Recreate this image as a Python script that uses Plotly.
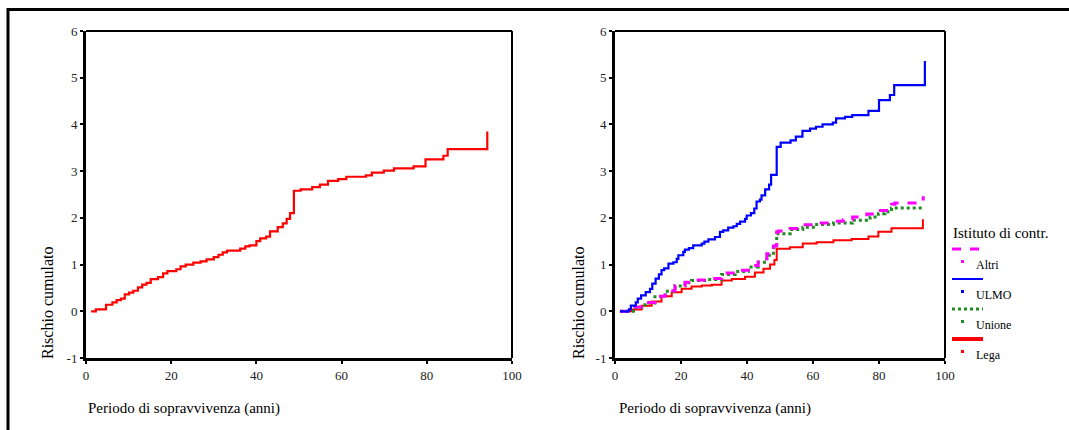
import plotly.graph_objects as go

# ---------------- data ----------------
# Left panel: overall cumulative hazard (step function)
all_t = [1.2, 2.3, 4.7, 6.2, 7.2, 8.2, 9.1, 10.1, 11.1, 12.2, 13.2, 14.2, 15.2, 16.9,
         18.1, 19.1, 21.2, 22.2, 23.4, 25.2, 26.9, 28.3, 30.0, 31.1, 32.1, 33.1, 36.2,
         37.4, 38.4, 40.0, 40.9, 42.3, 43.2, 45.0, 46.2, 47.1, 47.9, 48.8, 50.4, 53.1,
         54.9, 56.8, 59.2, 61.1, 65.7, 67.1, 69.9, 72.3, 76.9, 79.7, 83.9, 84.9, 94.2]
all_h = [0.00, 0.04, 0.14, 0.19, 0.24, 0.27, 0.36, 0.40, 0.44, 0.51, 0.57, 0.61, 0.69, 0.73,
         0.81, 0.86, 0.90, 0.96, 1.00, 1.04, 1.07, 1.11, 1.16, 1.21, 1.26, 1.30, 1.34,
         1.39, 1.41, 1.50, 1.56, 1.60, 1.71, 1.80, 1.88, 1.98, 2.10, 2.58, 2.61, 2.66,
         2.71, 2.79, 2.83, 2.88, 2.91, 2.97, 3.01, 3.06, 3.10, 3.25, 3.33, 3.47, 3.85]

# Right panel: by "Istituto di contr."
ulmo_t = [1.5, 4.2, 4.8, 6.3, 6.9, 7.9, 9.3, 10.6, 11.3, 12.3, 13.3, 14.1, 14.9, 16.2,
          17.7, 18.7, 19.2, 20.7, 21.2, 22.4, 23.7, 26.3, 27.1, 28.3, 30.3, 31.8, 32.8,
          34.3, 35.9, 36.9, 37.9, 39.4, 39.9, 41.2, 42.2, 42.9, 43.9, 44.4, 45.5, 46.7,
          47.3, 49.0, 50.2, 53.2, 54.8, 56.8, 59.1, 60.9, 62.9, 66.0, 67.0, 69.7, 71.9,
          76.8, 80.0, 83.3, 84.6, 93.9]
ulmo_h = [0.00, 0.04, 0.12, 0.19, 0.27, 0.34, 0.41, 0.48, 0.59, 0.70, 0.79, 0.88, 0.92, 1.02,
          1.05, 1.12, 1.20, 1.27, 1.32, 1.35, 1.41, 1.45, 1.49, 1.54, 1.59, 1.70, 1.73,
          1.79, 1.82, 1.87, 1.92, 1.98, 2.05, 2.10, 2.20, 2.35, 2.39, 2.48, 2.61, 2.71,
          2.92, 3.52, 3.61, 3.66, 3.74, 3.86, 3.91, 3.95, 4.00, 4.04, 4.13, 4.16, 4.20,
          4.29, 4.52, 4.63, 4.84, 5.36]

altri_t = [1.5, 6.1, 9.1, 12.1, 15.2, 18.2, 21.2, 23.2, 28.0, 32.3, 36.4, 40.4, 43.4, 46.0,
           48.0, 49.0, 49.6, 53.1, 56.9, 61.1, 66.2, 69.2, 72.0, 76.3, 79.8, 83.8, 84.8, 93.4]
altri_h = [0.00, 0.09, 0.19, 0.32, 0.44, 0.55, 0.62, 0.67, 0.70, 0.82, 0.88, 0.98, 1.09, 1.23,
           1.40, 1.70, 1.72, 1.77, 1.85, 1.89, 1.93, 1.96, 2.02, 2.08, 2.16, 2.29, 2.32, 2.46]

unione_t = [1.5, 6.1, 9.1, 12.1, 15.2, 18.2, 21.2, 23.2, 28.0, 32.3, 36.4, 40.4, 43.4, 46.0,
            48.0, 49.0, 53.1, 56.9, 61.1, 66.2, 72.0, 77.3, 79.8, 81.8, 83.8, 93.4]
unione_h = [0.00, 0.08, 0.18, 0.31, 0.43, 0.54, 0.61, 0.66, 0.68, 0.79, 0.85, 0.95, 1.05, 1.20,
            1.36, 1.66, 1.75, 1.80, 1.86, 1.89, 1.95, 2.02, 2.09, 2.13, 2.21, 2.23]

lega_t = [1.5, 5.1, 8.1, 11.1, 14.1, 17.2, 20.2, 23.2, 26.3, 29.3, 32.3, 35.4, 39.4, 42.4,
          45.0, 47.0, 48.3, 49.0, 53.0, 56.9, 61.1, 66.2, 71.7, 76.8, 79.8, 83.8, 93.3]
lega_h = [0.00, 0.04, 0.12, 0.21, 0.32, 0.41, 0.48, 0.53, 0.55, 0.57, 0.66, 0.69, 0.74, 0.83,
          0.91, 1.00, 1.10, 1.34, 1.37, 1.45, 1.48, 1.52, 1.55, 1.60, 1.70, 1.78, 1.97]

x_ticks = [0, 20, 40, 60, 80, 100]
y_ticks = [-1, 0, 1, 2, 3, 4, 5, 6]
y_tick_labels = ["-1", "0", "1", "2", "3", "4", "5", "6"]
x_title = "Periodo di sopravvivenza (anni)"
y_title = "Rischio cumulato"
legend_title = "Istituto di contr."
groups = ["Altri", "ULMO", "Unione", "Lega"]

# ---------------- figure ----------------
W, H = 1069, 430
FONT = "Liberation Serif, Times New Roman, DejaVu Serif, serif"
MAGENTA, BLUE, GREEN, RED = "#FF00FF", "#0000FF", "#1E8C1E", "#FF0000"

def px(x):
    return x / W

def py(y):
    return 1 - y / H

fig = go.Figure()

fig.add_trace(go.Scatter(x=all_t, y=all_h, mode="lines", line=dict(color=RED, width=2.2, shape="hv"),
                         xaxis="x", yaxis="y", showlegend=False))

fig.add_trace(go.Scatter(x=lega_t, y=lega_h, mode="lines", line=dict(color=RED, width=2, shape="hv"),
                         xaxis="x2", yaxis="y2", showlegend=False))
fig.add_trace(go.Scatter(x=unione_t, y=unione_h, mode="lines",
                         line=dict(color=GREEN, width=3, shape="hv", dash="dot"),
                         xaxis="x2", yaxis="y2", showlegend=False))
fig.add_trace(go.Scatter(x=altri_t, y=altri_h, mode="lines",
                         line=dict(color=MAGENTA, width=3, shape="hv", dash="dash"),
                         xaxis="x2", yaxis="y2", showlegend=False))
fig.add_trace(go.Scatter(x=ulmo_t, y=ulmo_h, mode="lines", line=dict(color=BLUE, width=2.2, shape="hv"),
                         xaxis="x2", yaxis="y2", showlegend=False))

L_DOM = [px(86), px(512)]
R_DOM = [px(615), px(945)]
Y_DOM = [py(358), py(31)]

def xaxis(dom, anchor):
    return dict(domain=dom, anchor=anchor, range=[0, 100], tickvals=x_ticks,
                showline=True, linewidth=3, linecolor="black", mirror=False,
                ticks="outside", ticklen=3, tickwidth=2, tickcolor="black",
                showgrid=False, zeroline=False, automargin=False,
                tickfont=dict(family=FONT, size=13, color="#222"))

def yaxis(anchor):
    return dict(domain=Y_DOM, anchor=anchor, range=[-1, 6], tickvals=y_ticks,
                ticktext=y_tick_labels,
                showline=True, linewidth=3, linecolor="black", mirror=False,
                ticks="outside", ticklen=3, tickwidth=2, tickcolor="black",
                showgrid=False, zeroline=False, automargin=False,
                tickfont=dict(family=FONT, size=13, color="#222"))

shapes = []
# outer frame
shapes.append(dict(type="rect", xref="paper", yref="paper", x0=px(8), x1=1.05, y0=-0.05, y1=py(9.5),
                   line=dict(color="black", width=3), fillcolor="rgba(0,0,0,0)"))
# top/right thin frame lines of both panels
for dom in (L_DOM, R_DOM):
    shapes.append(dict(type="line", xref="paper", yref="paper", x0=dom[0], x1=dom[1],
                       y0=Y_DOM[1], y1=Y_DOM[1], line=dict(color="black", width=2)))
    shapes.append(dict(type="line", xref="paper", yref="paper", x0=dom[1], x1=dom[1],
                       y0=Y_DOM[0], y1=Y_DOM[1], line=dict(color="black", width=2)))

annotations = []
for xc, xl in ((47, 86), (578, 617)):
    annotations.append(dict(text=y_title, xref="paper", yref="paper", x=px(xc), y=py(303),
                            showarrow=False, textangle=-90, xanchor="center", yanchor="middle",
                            font=dict(family=FONT, size=16, color="black")))
    annotations.append(dict(text=x_title, xref="paper", yref="paper", x=px(xl), y=py(408),
                            showarrow=False, xanchor="left", yanchor="middle",
                            font=dict(family=FONT, size=15, color="black")))

# legend (drawn)
annotations.append(dict(text=legend_title, xref="paper", yref="paper", x=px(951), y=py(233),
                        showarrow=False, xanchor="left", yanchor="middle",
                        font=dict(family=FONT, size=15, color="black")))
leg_styles = [(MAGENTA, 3, "dash"), (BLUE, 2, "solid"), (GREEN, 3, "dot"), (RED, 4, "solid")]
line_y = [249, 279, 309, 339]
for g, (c, w, d), ly in zip(groups, leg_styles, line_y):
    shapes.append(dict(type="line", xref="paper", yref="paper", x0=px(952), x1=px(983),
                       y0=py(ly), y1=py(ly), line=dict(color=c, width=w, dash=d)))
    my = ly + 12.5
    shapes.append(dict(type="rect", xref="paper", yref="paper", x0=px(961), x1=px(964),
                       y0=py(my + 1.5), y1=py(my - 1.5), line=dict(width=0), fillcolor=c))
    annotations.append(dict(text=g, xref="paper", yref="paper", x=px(974), y=py(ly + 16),
                            showarrow=False, xanchor="left", yanchor="middle",
                            font=dict(family=FONT, size=12, color="black")))

fig.update_layout(
    width=W, height=H, margin=dict(l=0, r=0, t=0, b=0),
    paper_bgcolor="white", plot_bgcolor="white",
    font=dict(family=FONT),
    xaxis=xaxis(L_DOM, "y"), yaxis=yaxis("x"),
    xaxis2=xaxis(R_DOM, "y2"), yaxis2=yaxis("x2"),
    shapes=shapes, annotations=annotations, showlegend=False,
)

fig.write_html("out.html", config={"displayModeBar": False},
               post_script="document.body.style.margin='0';document.body.style.padding='0';")
